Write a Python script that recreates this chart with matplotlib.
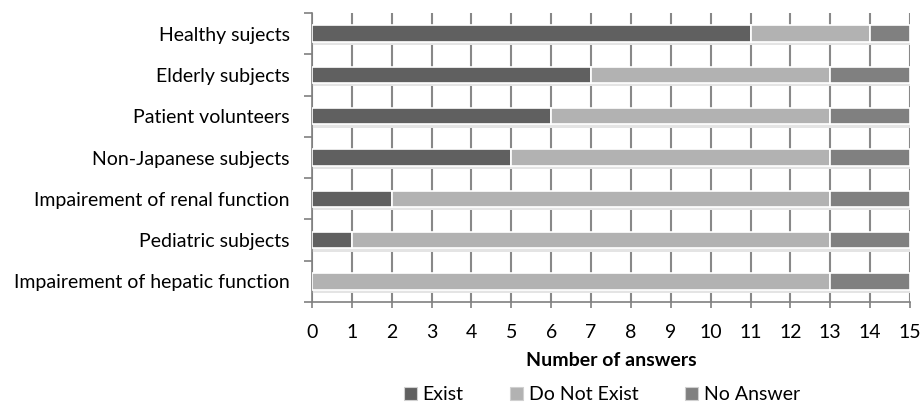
import matplotlib.pyplot as plt
import numpy as np

categories = ['Healthy sujects', 'Elderly subjects', 'Patient volunteers',
              'Non-Japanese subjects', 'Impairement of renal function',
              'Pediatric subjects', 'Impairement of hepatic function']
exist = [11, 7, 6, 5, 2, 1, 0]
not_exist = [3, 6, 7, 8, 11, 12, 13]
no_answer = [1, 2, 2, 2, 2, 2, 2]
series = ['Exist', 'Do Not Exist', 'No Answer']
colors = ['#606060', '#b2b2b2', '#808080']

plt.rcParams['font.family'] = ['Lato', 'DejaVu Sans']

fig = plt.figure(figsize=(9.22, 4.03), dpi=100)
ax = fig.add_axes([312/922, 1 - 302/403, 598/922, 289/403])

y = np.arange(len(categories))[::-1]
totals = np.array(exist) + np.array(not_exist) + np.array(no_answer)

# soft shadow under each bar
ax.barh(y - 0.1, totals, height=0.36, color='#e4e4e4', linewidth=0, zorder=2)

left = np.zeros(len(categories))
handles = []
for vals, name, c in zip([exist, not_exist, no_answer], series, colors):
    h = ax.barh(y, vals, left=left, height=0.4, color=c, edgecolor='white',
                linewidth=1.2, label=name, zorder=3)
    handles.append(h)
    left += np.array(vals)

ax.set_xlim(0, 15)
ax.set_ylim(-0.5, len(categories) - 0.5)
ax.set_xticks(range(16))
ax.set_yticks(y)
ax.set_yticklabels(categories, fontsize=14)
ax.set_yticks(np.arange(-0.5, len(categories), 1), minor=True)
ax.tick_params(axis='y', which='major', length=0, pad=16)
ax.tick_params(axis='y', which='minor', length=5.5, width=1.2, color='#808080', direction='out')
ax.tick_params(axis='x', length=4.5, width=1.2, color='#808080', labelsize=14, pad=11)
ax.xaxis.grid(True, color='#888888', linewidth=1.5, zorder=0)
ax.set_axisbelow(True)
for s in ['top', 'right']:
    ax.spines[s].set_visible(False)
for s in ['left', 'bottom']:
    ax.spines[s].set_color('#808080')
    ax.spines[s].set_linewidth(1.2)
ax.set_xlabel('Number of answers', fontsize=14, fontweight='bold', labelpad=8)

leg = fig.legend(handles, series, loc='center', bbox_to_anchor=(602/922, 1 - 395/403),
                 ncol=3, frameon=False, fontsize=14, handlelength=0.65, handleheight=0.65,
                 columnspacing=2.4, handletextpad=0.3, borderpad=0)
for p in leg.legend_handles:
    p.set_edgecolor('#d0d0d0')
    p.set_linewidth(0.8)

fig.savefig('out.png', dpi=100)
